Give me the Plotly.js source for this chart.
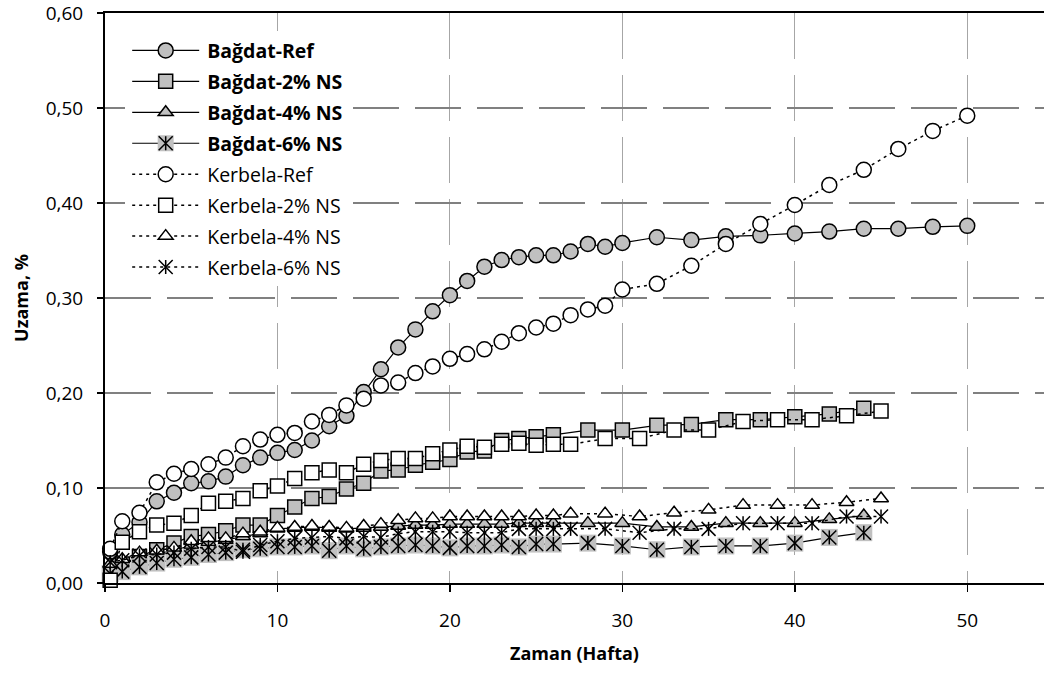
<!DOCTYPE html>
<html>
<head>
<meta charset="utf-8">
<script src="https://cdn.plot.ly/plotly-3.0.1.min.js"></script>
<style>html,body{margin:0;padding:0;background:#fff;}#chart{width:1044px;height:680px;}</style>
</head>
<body>
<div id="chart"></div>
<script>
// Weeks (x values)
var weeksRef = [0.3,1,2,3,4,5,6,7,8,9,10,11,12,13,14,15,16,17,18,19,20,21,22,23,24,25,26,27,28,29,30,32,34,36,38,40,42,44,46,48,50];
var weeksB = [0.3,1,2,3,4,5,6,7,8,9,10,11,12,13,14,15,16,17,18,19,20,21,22,23,24,25,26,28,30,32,34,36,38,40,42,44];
var weeksK = [0.3,1,2,3,4,5,6,7,8,9,10,11,12,13,14,15,16,17,18,19,20,21,22,23,24,25,26,27,29,31,33,35,37,39,41,43,45];

// Series values (Uzama, %)
var bagdatRef = [0.033,0.051,0.064,0.086,0.095,0.105,0.107,0.112,0.124,0.132,0.137,0.140,0.150,0.165,0.176,0.201,0.225,0.248,0.267,0.286,0.303,0.318,0.333,0.340,0.343,0.345,0.345,0.349,0.357,0.354,0.358,0.364,0.361,0.365,0.366,0.368,0.370,0.373,0.373,0.375,0.376];
var bagdat2 = [0.008,0.020,0.028,0.035,0.042,0.049,0.051,0.055,0.061,0.061,0.071,0.080,0.089,0.091,0.099,0.105,0.118,0.119,0.124,0.127,0.130,0.138,0.139,0.150,0.152,0.154,0.156,0.161,0.161,0.166,0.167,0.172,0.172,0.175,0.178,0.184];
var bagdat4 = [0.012,0.018,0.028,0.031,0.034,0.040,0.043,0.045,0.049,0.052,0.057,0.058,0.059,0.058,0.057,0.058,0.059,0.060,0.061,0.061,0.062,0.062,0.062,0.062,0.063,0.063,0.063,0.063,0.063,0.059,0.059,0.063,0.063,0.063,0.067,0.071];
var bagdat6 = [0.010,0.012,0.017,0.021,0.025,0.027,0.030,0.032,0.035,0.036,0.038,0.038,0.039,0.034,0.039,0.036,0.038,0.039,0.040,0.039,0.037,0.039,0.039,0.040,0.038,0.041,0.041,0.042,0.039,0.035,0.038,0.039,0.039,0.042,0.048,0.053];
var kerbelaRef = [0.036,0.065,0.074,0.106,0.115,0.120,0.125,0.132,0.144,0.151,0.156,0.158,0.170,0.177,0.187,0.194,0.208,0.211,0.221,0.228,0.236,0.241,0.246,0.254,0.263,0.269,0.273,0.282,0.288,0.292,0.309,0.315,0.334,0.357,0.378,0.398,0.419,0.435,0.457,0.476,0.492];
var kerbela2 = [0.003,0.043,0.054,0.061,0.063,0.071,0.084,0.086,0.089,0.097,0.102,0.110,0.116,0.119,0.116,0.125,0.129,0.131,0.131,0.136,0.140,0.144,0.143,0.146,0.147,0.145,0.146,0.146,0.152,0.152,0.161,0.161,0.170,0.172,0.172,0.176,0.181];
var kerbela4 = [0.020,0.025,0.032,0.034,0.037,0.044,0.047,0.047,0.052,0.054,0.058,0.059,0.060,0.059,0.058,0.060,0.062,0.066,0.068,0.068,0.070,0.070,0.070,0.070,0.070,0.071,0.071,0.073,0.073,0.070,0.074,0.077,0.082,0.082,0.082,0.085,0.089];
var kerbela6 = [0.022,0.024,0.029,0.030,0.032,0.036,0.038,0.038,0.033,0.040,0.044,0.047,0.048,0.049,0.047,0.049,0.048,0.052,0.054,0.054,0.054,0.053,0.053,0.053,0.057,0.057,0.057,0.057,0.057,0.053,0.057,0.057,0.063,0.063,0.063,0.070,0.070];

var names = ['<b>Bağdat-Ref</b>','<b>Bağdat-2% NS</b>','<b>Bağdat-4% NS</b>','<b>Bağdat-6% NS</b>',
             'Kerbela-Ref','Kerbela-2% NS','Kerbela-4% NS','Kerbela-6% NS'];
var yTicks = [0,0.1,0.2,0.3,0.4,0.5,0.6];
var xTicks = [0,10,20,30,40,50];

var GRAY = '#c0c0c0';
var solid = {color:'#000', width:1.2};
var dotted = {color:'#000', width:1.5, dash:'3px,4px'};
var mline = {color:'#000', width:1.5};

var traces = [
  {x:weeksRef, y:bagdatRef, name:names[0], legendgroup:'g1', mode:'lines+markers', line:solid,
   marker:{symbol:'circle', size:15, color:GRAY, line:mline}},
  {x:weeksB, y:bagdat2, name:names[1], legendgroup:'g2', mode:'lines+markers', line:solid,
   marker:{symbol:'square', size:14, color:GRAY, line:mline}},
  {x:weeksB, y:bagdat4, name:names[2], legendgroup:'g3', mode:'lines+markers', line:solid,
   marker:{symbol:'triangle-up', size:13, color:GRAY, line:mline}},
  {x:weeksB, y:bagdat6, name:names[3], legendgroup:'g4', mode:'lines+markers', line:solid,
   marker:{symbol:'square', size:17, color:GRAY, line:{width:0}}},
  {x:weeksB, y:bagdat6, name:names[3], legendgroup:'g4', showlegend:false, mode:'markers',
   marker:{symbol:'x-thin-open', size:14, color:'#000', line:mline}},
  {x:weeksB, y:bagdat6, name:names[3], legendgroup:'g4', showlegend:false, mode:'markers',
   marker:{symbol:'line-ns-open', size:10, color:'#000', line:mline}},
  {x:weeksRef, y:kerbelaRef, name:names[4], legendgroup:'g5', mode:'lines+markers', line:dotted,
   marker:{symbol:'circle', size:15, color:'#fff', line:mline}},
  {x:weeksK, y:kerbela2, name:names[5], legendgroup:'g6', mode:'lines+markers', line:dotted,
   marker:{symbol:'square', size:14, color:'#fff', line:mline}},
  {x:weeksK, y:kerbela4, name:names[6], legendgroup:'g7', mode:'lines+markers', line:dotted,
   marker:{symbol:'triangle-up', size:13, color:'#fff', line:mline}},
  {x:weeksK, y:kerbela6, name:names[7], legendgroup:'g8', mode:'lines+markers', line:dotted,
   marker:{symbol:'x-thin-open', size:14, color:'#000', line:mline}},
  {x:weeksK, y:kerbela6, name:names[7], legendgroup:'g8', showlegend:false, mode:'markers',
   marker:{symbol:'line-ns-open', size:10, color:'#000', line:mline}}
];
traces.forEach(function(t){ t.type='scatter'; t.cliponaxis=false; t.hoverinfo='x+y+name'; });

var FONT = 'Open Sans, Liberation Sans, sans-serif';
var layout = {
  width:1044, height:680,
  margin:{l:105, r:0, t:13, b:97},
  paper_bgcolor:'#fff', plot_bgcolor:'#fff',
  separators:',.',
  font:{family:FONT, size:19, color:'#000'},
  showlegend:true,
  legend:{x:0.0215, y:0.968, xanchor:'left', yanchor:'top', bgcolor:'#fff', borderwidth:0,
          font:{family:FONT, size:19.5, color:'#000'}, traceorder:'grouped', tracegroupgap:2.6, itemwidth:72},
  xaxis:{range:[0,54.45], tickvals:xTicks, ticktext:xTicks.map(String), ticks:'outside', ticklen:7, tickwidth:1.5, tickcolor:'#000',
         showline:true, linecolor:'#000', linewidth:2, mirror:true,
         showgrid:true, gridcolor:'#a6a6a6', gridwidth:1, griddash:'46px,16px', zeroline:false,
         tickfont:{family:FONT, size:19}, ticklabelstandoff:12,
         title:{text:'<b>Zaman (Hafta)</b>', font:{family:FONT, size:18}, standoff:16}},
  yaxis:{range:[0,0.6001], tickvals:yTicks, tickformat:'.2f', ticks:'outside', ticklen:6, tickwidth:1.5, tickcolor:'#000',
         showline:true, linecolor:'#000', linewidth:2, mirror:false, ticklabeloverflow:'allow',
         showgrid:true, gridcolor:'#808080', gridwidth:1.5, griddash:'46px,16px', zeroline:false,
         tickfont:{family:FONT, size:19}, ticklabelstandoff:10,
         title:{text:'<b>Uzama, %</b>', font:{family:FONT, size:18}, standoff:12}}
};
Plotly.newPlot('chart', traces, layout, {displayModeBar:false, staticPlot:true}).then(function(gd){
  // Excel-style legend samples: long line, centred marker, asterisk glyphs
  var NS = 'http://www.w3.org/2000/svg';
  var items = gd.querySelectorAll('.legend .traces');
  items.forEach(function(it){
    var txt = it.querySelector('text.legendtext');
    if(!txt) return;
    var tx = parseFloat(txt.getAttribute('x')) || 0;
    var x0 = tx - 75, len = 67, cx = x0 + len/2;
    it.querySelectorAll('.legendlines path').forEach(function(p){ p.setAttribute('d','M'+x0+',0h'+len); });
    var pts = it.querySelector('.legendpoints');
    it.querySelectorAll('.legendpoints path').forEach(function(p){ p.setAttribute('transform','translate('+cx+',0)'); });
    var label = txt.textContent || '';
    var glyph = null;
    if(label.indexOf('Bağdat-6%') >= 0) glyph = 'M-7,-7L7,7M7,-7L-7,7M0,-7V7';
    else if(label.indexOf('Kerbela-6%') >= 0) glyph = 'M0,-7V7';
    if(glyph && pts){
      var p = document.createElementNS(NS,'path');
      p.setAttribute('d', glyph);
      p.setAttribute('transform','translate('+cx+',0)');
      p.setAttribute('style','fill:none;stroke:#000;stroke-width:1.5px;');
      pts.appendChild(p);
    }
  });
});
</script>
</body>
</html>
